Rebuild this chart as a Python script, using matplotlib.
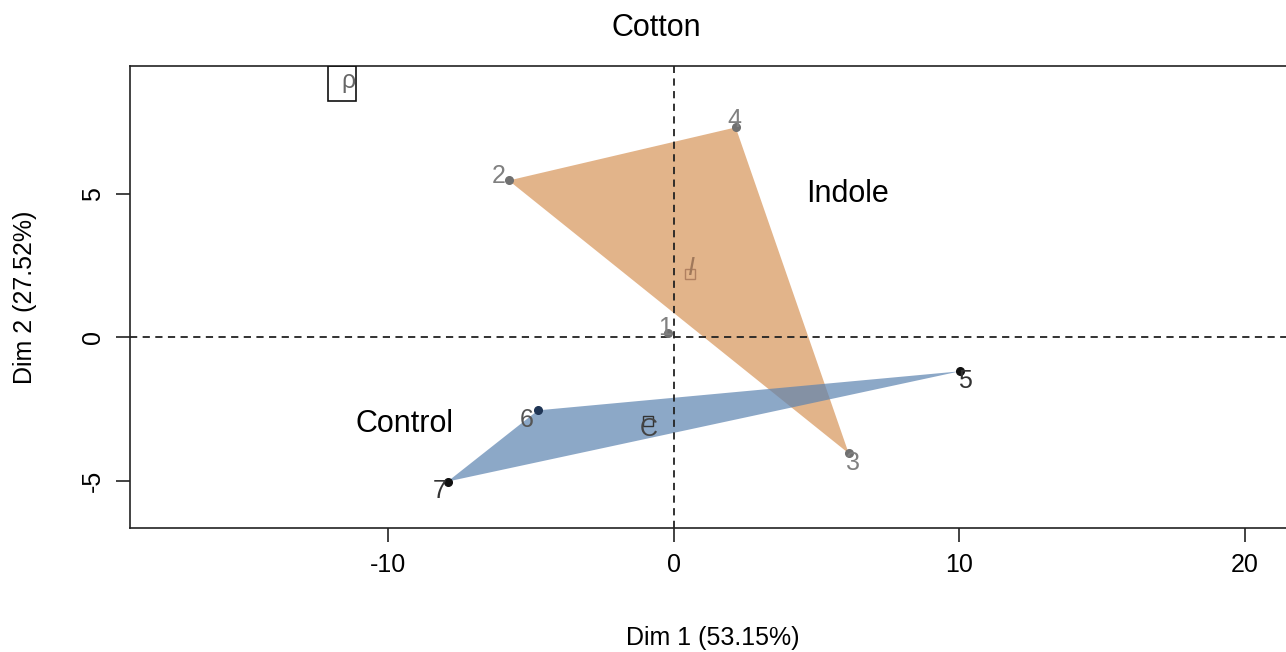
import numpy as np
import matplotlib.pyplot as plt
import matplotlib.patches as mpatches

plt.rcParams['font.family'] = ['Liberation Sans', 'DejaVu Sans']
plt.rcParams['axes.unicode_minus'] = False

# individual coordinates on the first two dimensions
labels = ['1', '2', '3', '4', '5', '6', '7']
dim1 = [-0.2, -5.78, 6.13, 2.17, 10.02, -4.76, -7.92]
dim2 = [0.14, 5.47, -4.04, 7.32, -1.18, -2.54, -5.02]
groups = ['Indole', 'Indole', 'Indole', 'Indole', 'Control', 'Control', 'Control']

# convex hulls (indices into the arrays above)
hull_indole = [1, 3, 2]
hull_control = [6, 5, 4]

# lone level with no hull
cotton_pos = (-11.63, 8.85)

pct1 = 53.15
pct2 = 27.52

dot_colors = ['#707070', '#707070', '#707070', '#707070', '#111111', '#1f3555', '#111111']
lab_colors = ['#808080', '#808080', '#808080', '#808080', '#333333', '#555555', '#333333']
lab_offsets = [(-2, 4), (-7, 3), (3, -7), (-1, 5), (4, -7), (-8, -7), (-6, -7)]

fig = plt.figure(figsize=(12.86, 6.52), dpi=100)
ax = fig.add_axes([130 / 1286, 124 / 652, 1166 / 1286, 462 / 652])
ax.set_xlim(-19.05, 21.8)
ax.set_ylim(-6.64, 9.46)

x = np.array(dim1)
y = np.array(dim2)

ax.add_patch(mpatches.Polygon(np.column_stack([x[hull_indole], y[hull_indole]]),
                              closed=True, fc='#d79458', ec='none', alpha=0.7, zorder=1))
ax.add_patch(mpatches.Polygon(np.column_stack([x[hull_control], y[hull_control]]),
                              closed=True, fc='#5c83b0', ec='none', alpha=0.7, zorder=2))

ax.axhline(0, color='#222222', lw=1.3, ls=(0, (4, 3)), zorder=3)
ax.axvline(0, color='#222222', lw=1.3, ls=(0, (4, 3)), zorder=3)

for i in range(len(labels)):
    ax.plot(x[i], y[i], 'o', ms=5.5, color=dot_colors[i], zorder=4)
    ax.annotate(labels[i], (x[i], y[i]), xytext=lab_offsets[i], textcoords='offset points',
                ha='center', va='center', fontsize=18, color=lab_colors[i], zorder=5)

# group centroids
g = np.array(groups)
ci = (x[g == 'Indole'].mean(), y[g == 'Indole'].mean())
cc = (x[g == 'Control'].mean(), y[g == 'Control'].mean())
ax.plot(*ci, 's', ms=7, mfc='none', mec='#b08060', mew=1, zorder=4)
ax.annotate('I', ci, xytext=(0, 4), textcoords='offset points', ha='center', va='center',
            fontsize=18, color='#a0785a', style='italic', zorder=5)
ax.plot(*cc, 's', ms=7, mfc='none', mec='#333333', mew=1, zorder=4)
ax.annotate('C', cc, xytext=(0, -6), textcoords='offset points', ha='center', va='center',
            fontsize=18, color='#444444', zorder=5)

ax.add_patch(mpatches.Rectangle((cotton_pos[0] - 0.49, cotton_pos[1] - 0.61), 0.98, 1.22,
                                fc='none', ec='#111111', lw=1.2, zorder=4))
ax.text(cotton_pos[0] + 0.25, cotton_pos[1] + 0.1, 'ρ', ha='center', va='center',
        fontsize=18, color='#666666', zorder=5)

ax.text(4.65, 5.0, 'Indole', fontsize=22, ha='left', va='center')
ax.text(-11.15, -3.0, 'Control', fontsize=22, ha='left', va='center')

ax.set_xticks([-10, 0, 10, 20])
ax.set_yticks([-5, 0, 5])
ax.tick_params(labelsize=18, length=10, width=1.2, color='#222222', pad=8)
for t in ax.get_yticklabels():
    t.set_rotation(90)
    t.set_va('center')
for s in ax.spines.values():
    s.set_linewidth(1.2)
    s.set_color('#222222')

ax.set_xlabel(f'Dim 1 ({pct1:.2f}%)', fontsize=18, labelpad=35)
ax.set_ylabel(f'Dim 2 ({pct2:.2f}%)', fontsize=18, labelpad=32)
fig.text(656 / 1286, 1 - 28 / 652, 'Cotton', fontsize=22, ha='center', va='center')

fig.savefig('out.png', dpi=100)
